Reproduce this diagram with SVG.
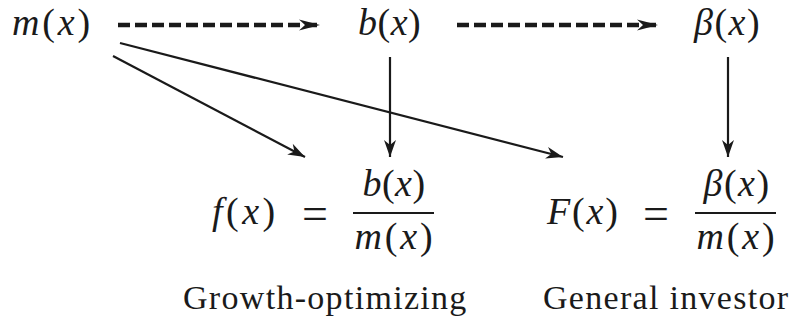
<svg xmlns="http://www.w3.org/2000/svg" width="798" height="325" viewBox="0 0 798 325">
  <defs>
    <marker id="ah" markerUnits="userSpaceOnUse" viewBox="-20 -8 22 16" refX="0" refY="0" markerWidth="22" markerHeight="16" orient="auto">
      <path d="M0,0 L-17,-6 L-12,0 L-17,6 Z" fill="#1a1a1a"/>
    </marker>
    <marker id="ahd" markerUnits="userSpaceOnUse" viewBox="-24 -8 26 16" refX="0" refY="0" markerWidth="26" markerHeight="16" orient="auto">
      <path d="M0,0 L-21,-5.5 L-15,0 L-21,5.5 Z" fill="#1a1a1a"/>
    </marker>
  </defs>

  <g id="node-m">
    <text style="font-family: 'Liberation Serif', serif" font-family="Liberation Serif" fill="#1a1a1a" x="12" y="35" font-size="38" letter-spacing="2.8"><tspan font-style="italic">m</tspan>(<tspan font-style="italic">x</tspan>)</text>
  </g>
  <g id="node-b">
    <text style="font-family: 'Liberation Serif', serif" font-family="Liberation Serif" fill="#1a1a1a" x="358" y="35" font-size="38" letter-spacing="0.5"><tspan font-style="italic">b</tspan>(<tspan font-style="italic">x</tspan>)</text>
  </g>
  <g id="node-beta">
    <text style="font-family: 'Liberation Serif', serif" font-family="Liberation Serif" fill="#1a1a1a" x="694" y="35" font-size="38" letter-spacing="1.5"><tspan font-style="italic">β</tspan>(<tspan font-style="italic">x</tspan>)</text>
  </g>

  <g id="node-f">
    <text style="font-family: 'Liberation Serif', serif" font-family="Liberation Serif" fill="#1a1a1a" x="212" y="224" font-size="38" letter-spacing="3.5"><tspan font-style="italic">f</tspan>(<tspan font-style="italic">x</tspan>)</text>
    <text style="font-family: 'Liberation Serif', serif" font-family="Liberation Serif" fill="#1a1a1a" x="315" y="229" font-size="46" text-anchor="middle">=</text>
    <text style="font-family: 'Liberation Serif', serif" font-family="Liberation Serif" fill="#1a1a1a" x="394" y="196" font-size="38" text-anchor="middle" letter-spacing="0.5"><tspan font-style="italic">b</tspan>(<tspan font-style="italic">x</tspan>)</text>
    <line stroke="#1a1a1a" stroke-width="1.8" x1="353" y1="213" x2="434" y2="213"/>
    <text style="font-family: 'Liberation Serif', serif" font-family="Liberation Serif" fill="#1a1a1a" x="395" y="249" font-size="38" text-anchor="middle" letter-spacing="2.8"><tspan font-style="italic">m</tspan>(<tspan font-style="italic">x</tspan>)</text>
    <text style="font-family: 'Liberation Serif', serif" font-family="Liberation Serif" fill="#1a1a1a" x="183" y="309" font-size="34" letter-spacing="1.3">Growth-optimizing</text>
  </g>

  <g id="node-F">
    <text style="font-family: 'Liberation Serif', serif" font-family="Liberation Serif" fill="#1a1a1a" x="547" y="224" font-size="38" letter-spacing="1.8"><tspan font-style="italic">F</tspan>(<tspan font-style="italic">x</tspan>)</text>
    <text style="font-family: 'Liberation Serif', serif" font-family="Liberation Serif" fill="#1a1a1a" x="656" y="229" font-size="46" text-anchor="middle">=</text>
    <text style="font-family: 'Liberation Serif', serif" font-family="Liberation Serif" fill="#1a1a1a" x="737" y="196" font-size="38" text-anchor="middle" letter-spacing="1.5"><tspan font-style="italic">β</tspan>(<tspan font-style="italic">x</tspan>)</text>
    <line stroke="#1a1a1a" stroke-width="1.8" x1="695" y1="213" x2="776" y2="213"/>
    <text style="font-family: 'Liberation Serif', serif" font-family="Liberation Serif" fill="#1a1a1a" x="737" y="249" font-size="38" text-anchor="middle" letter-spacing="2.8"><tspan font-style="italic">m</tspan>(<tspan font-style="italic">x</tspan>)</text>
    <text style="font-family: 'Liberation Serif', serif" font-family="Liberation Serif" fill="#1a1a1a" x="543" y="309" font-size="34" letter-spacing="1.3">General investor</text>
  </g>

  <g id="connectors" fill="none" stroke="#1a1a1a">
    <path stroke-width="4.5" stroke-dasharray="12 5" d="M118,25 L320,25" marker-end="url(#ahd)"/>
    <path stroke-width="4.5" stroke-dasharray="12 5" d="M457,25 L658,25" marker-end="url(#ahd)"/>
    <path stroke-width="2.2" d="M390,57 L390,157" marker-end="url(#ah)"/>
    <path stroke-width="2.2" d="M728,57 L728,157" marker-end="url(#ah)"/>
    <path stroke-width="2.2" d="M113,56 L305,157" marker-end="url(#ah)"/>
    <path stroke-width="2.2" d="M120,43 L563,157" marker-end="url(#ah)"/>
  </g>
</svg>
